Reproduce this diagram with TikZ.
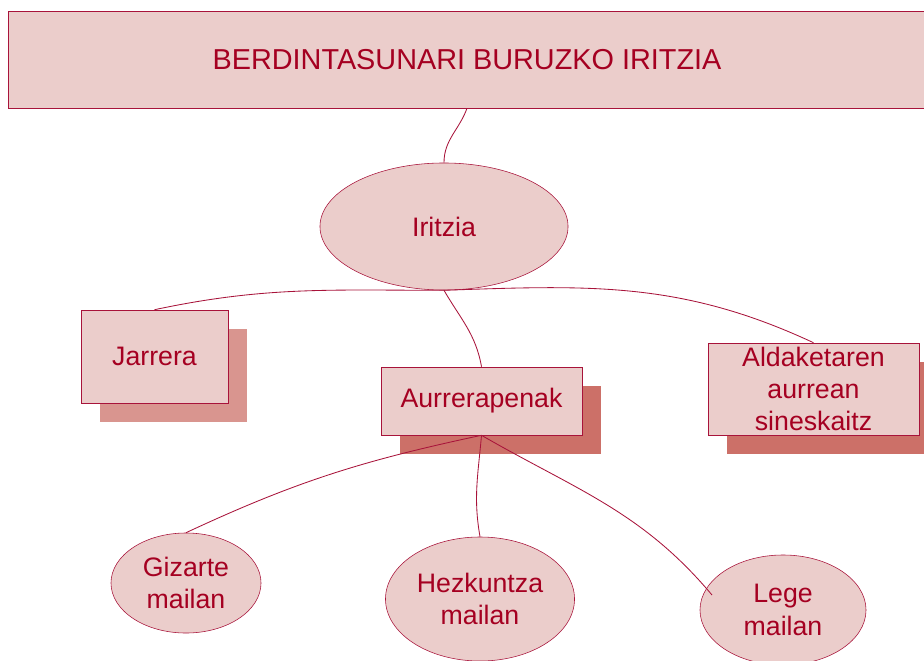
\documentclass[tikz,border=0pt]{standalone}
\usepackage{fontspec}
\setmainfont{Liberation Sans}
\usetikzlibrary{shapes.geometric, shadows}
\definecolor{linered}{HTML}{A8133A}
\definecolor{textred}{HTML}{A50021}
\definecolor{pinkfill}{HTML}{EBCDCB}
\definecolor{shadowlight}{HTML}{D9958F}
\definecolor{shadowdark}{HTML}{CC7068}
\newcommand{\boxfont}{\fontsize{19}{23}\selectfont}
\tikzset{
  titlebox/.style={rectangle, draw=linered, fill=pinkfill, text=textred, font=\fontsize{20.5}{24}\selectfont, minimum width=22.95cm, minimum height=2.425cm},
  topic/.style={rectangle, draw=linered, fill=pinkfill, text=textred, font=\boxfont, align=center, inner sep=1pt},
  bubble/.style={ellipse, draw=linered, fill=pinkfill, text=textred, font=\boxfont, align=center, inner sep=1pt},
  shadowed/.style={drop shadow={shadow xshift=0.475cm, shadow yshift=-0.475cm, opacity=1, fill=#1}},
  link/.style={draw=linered, line width=0.6pt},
}

\begin{document}
\begin{tikzpicture}[x=0.025cm, y=0.025cm]
\useasboundingbox (0,0) rectangle (924,660);

% title banner
\node[titlebox] (title) at (467,600.5) {BERDINTASUNARI BURUZKO IRITZIA};

% central idea
\node[bubble, minimum width=6.2cm, minimum height=3.175cm] (iritzia) at (444,433.5) {Iritzia};

% second level boxes
\node[topic, shadowed=shadowlight, minimum width=3.675cm, minimum height=2.325cm] (jarrera) at (154.5,303.5) {Jarrera};
\node[topic, shadowed=shadowdark, minimum width=5.025cm, minimum height=1.7cm] (aurrera) at (481.5,259) {Aurrerapenak};
\node[topic, shadowed=shadowdark, minimum width=5.275cm, minimum height=2.3cm] (aldaketa) at (813.5,271) {Aldaketaren\\aurrean\\sineskaitz};

% third level bubbles
\node[bubble, minimum width=3.75cm, minimum height=2.5cm] (gizarte) at (186,77) {Gizarte\\mailan};
\node[bubble, minimum width=4.725cm, minimum height=3.1cm] (hezkuntza) at (480,61) {Hezkuntza\\mailan};
\node[bubble, minimum width=4.15cm, minimum height=2.75cm] (lege) at (783,50) {Lege\\mailan};
\coordinate (legeend) at ([shift={(-71,15)}]lege.center);

% connectors
\draw[link] (title.south) to[out=250, in=90] (iritzia.north);
\draw[link] (iritzia.south) to[out=180, in=12] (jarrera.north);
\draw[link] (iritzia.south) to[out=-60, in=100] (aurrera.north);
\draw[link] (iritzia.south) to[out=2, in=155] (aldaketa.north);
\draw[link] (aurrera.south) to[out=192, in=25] (gizarte.north);
\draw[link] (aurrera.south) to[out=265, in=100] (hezkuntza.north);
\draw[link] (aurrera.south) to[out=-30, in=130] (legeend);
\end{tikzpicture}
\end{document}
